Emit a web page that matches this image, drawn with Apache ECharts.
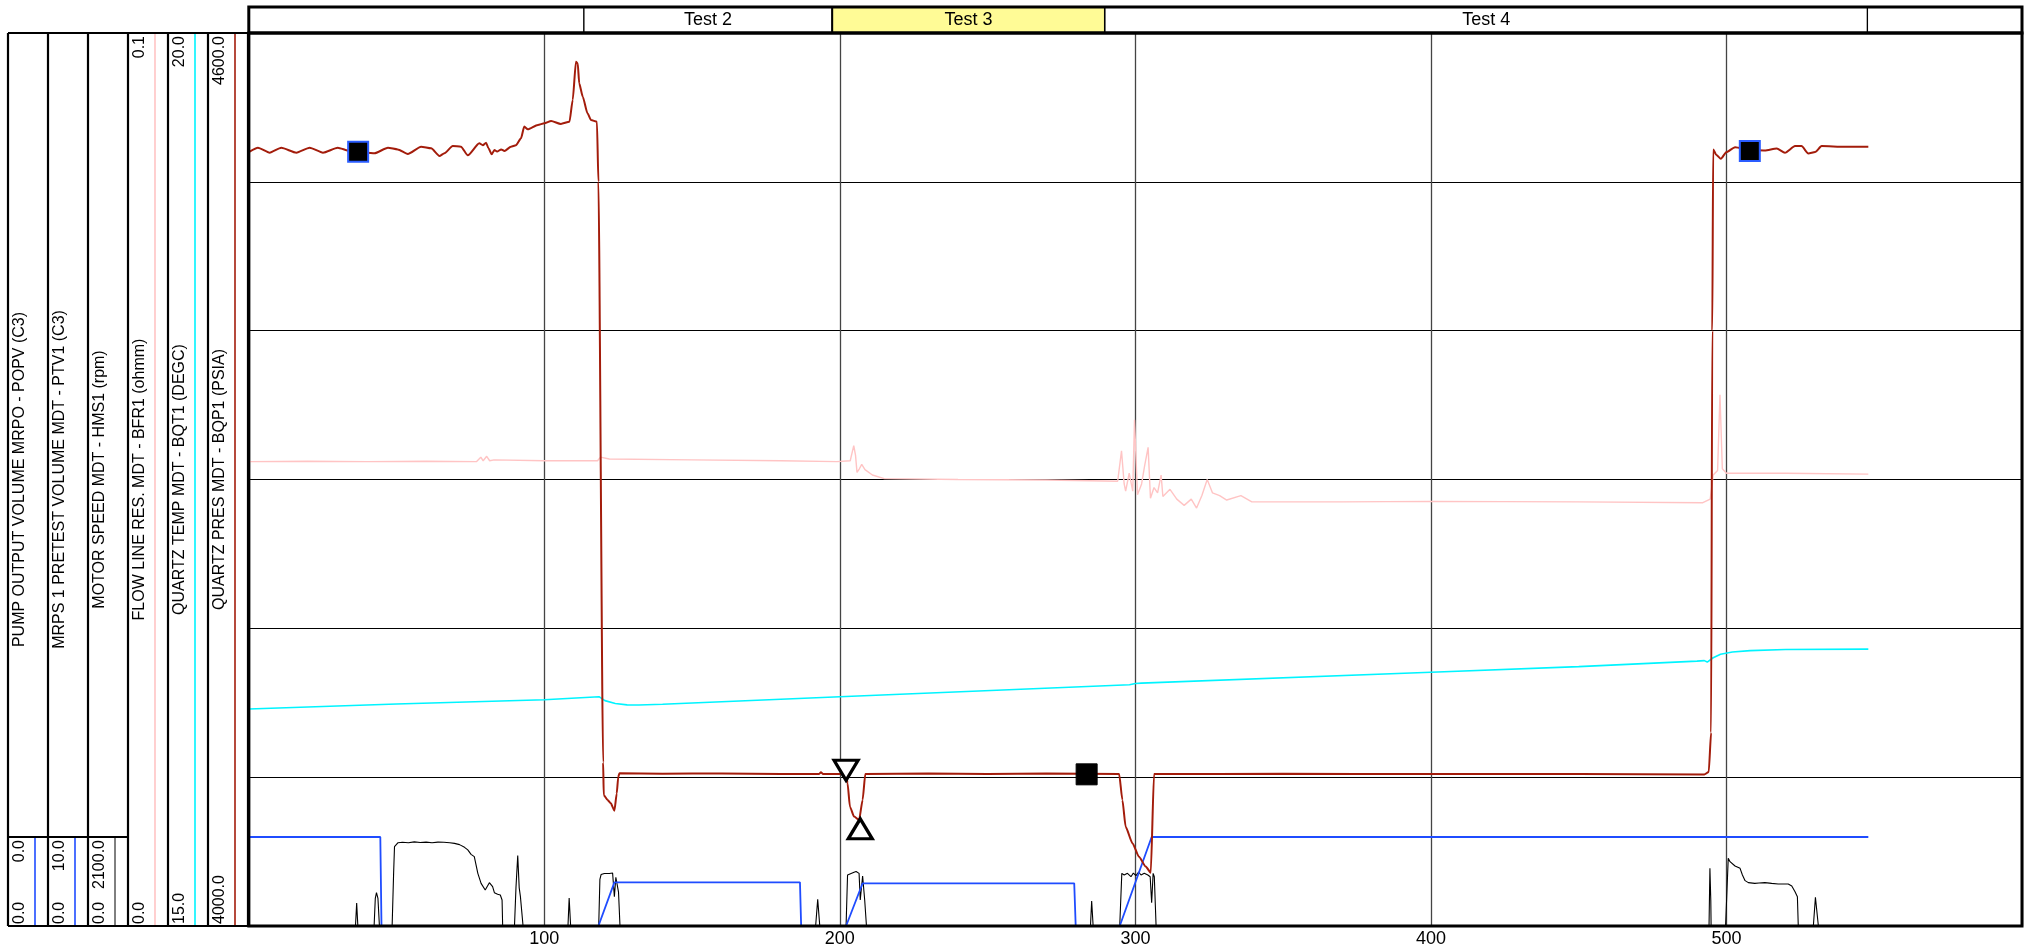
<!DOCTYPE html>
<html><head><meta charset="utf-8">
<script src="https://cdn.jsdelivr.net/npm/echarts@6/dist/echarts.min.js"></script>
<style>html,body{margin:0;padding:0;background:#fff}#c{width:2026px;height:950px}</style>
</head><body><div id="c"></div>
<script>
// ---------------- DATA ----------------
// Quartz pressure (PSIA)
const presData = [[0.3,4520.3],[3.1,4522.9],[7.05,4519.6],[11.0,4522.9],[16.1,4519.6],[20.6,4522.9],[25.1,4519.6],[30.1,4522.9],[34,4520.8],[37,4520.2],[40,4519.6],[42.5,4519.2],[47.1,4522.9],[50.4,4521.8],[53.8,4518.7],[58.3,4523.6],[61.7,4522.5],[64.5,4517.4],[66.2,4519.2],[69.0,4524.1],[71.8,4523.6],[74.1,4517.8],[78.0,4525.9],[79.2,4524.6],[80.3,4526.3],[81.1,4522.5],[82.2,4518.5],[83.1,4521.4],[84.0,4520.3],[85.4,4521.8],[86.5,4520.7],[88.7,4523.6],[90.4,4524.6],[92.1,4529.2],[93.2,4537.1],[94.4,4535.3],[97.8,4538.2],[100.0,4539.3],[102.3,4540.9],[105.6,4538.9],[108.5,4540.4],[109.6,4555.0],[110.7,4580.7],[111.3,4579.6],[111.8,4566.2],[113.0,4557.2],[114.6,4546.0],[115.8,4541.5],[117.8,4540.4],[118.3,4500],[119.9,4110],[120.1,4088.0],[121.4,4084.7],[122.5,4082.4],[123.7,4077.5],[124.5,4089.1],[125.0,4100],[125.4,4102.6],[140,4102.3],[160,4102.5],[180,4102.2],[193.0,4102.2],[193.6,4103.3],[194.3,4102.1],[202.1,4102.1],[202.6,4095.9],[203.4,4080.2],[204.8,4073.5],[206.5,4071.2],[207.7,4084.7],[208.6,4102.1],[230,4102.4],[250,4102.2],[270,4102.4],[294.5,4102.1],[295.6,4084.7],[296.7,4066.7],[299.0,4055.6],[301.2,4046.6],[303.5,4039.9],[305.2,4035.8],[306.3,4102.1],[350,4102.3],[400,4102.1],[450,4102.2],[492.5,4101.8],[494.0,4103.5],[494.8,4130],[495.2,4400],[495.5,4521.7],[496.6,4518],[498.1,4515.5],[500,4520],[502.9,4523.3],[508.2,4521.3],[513,4521.1],[517,4522.4],[519.8,4519.5],[523.2,4524],[525.4,4524],[527.7,4519],[530,4520],[532.2,4524],[540,4523.6],[548,4523.5]];
// Quartz temperature (DEGC)
const tempData = [[0,16.215],[50,16.243],[100,16.267],[118.5,16.284],[120.5,16.262],[124,16.246],[128,16.238],[132,16.237],[140,16.242],[200,16.284],[298,16.351],[300,16.358],[302,16.360],[400,16.421],[450,16.452],[490,16.483],[492.5,16.486],[493.5,16.478],[495.5,16.502],[498,16.522],[502,16.534],[508,16.542],[520,16.548],[548,16.550]];
// Flow line resistivity (ohmm)
const flowData = [[0,0.0520],[20,0.05205],[40,0.0520],[60,0.05205],[77,0.0520],[78.5,0.0525],[79.3,0.0521],[80.5,0.0526],[81.5,0.0521],[83,0.0522],[100,0.0521],[118,0.0521],[119,0.0525],[122,0.0523],[150,0.0522],[180,0.0521],[199,0.0520],[203.5,0.0521],[204.7,0.0538],[205.3,0.0527],[205.8,0.0508],[206.6,0.0512],[207.4,0.0517],[208.5,0.0511],[211,0.0505],[215,0.0501],[240,0.0500],[270,0.04995],[294,0.0498],[295.3,0.0532],[296.2,0.0495],[296.7,0.0487],[297.9,0.0507],[299.1,0.0487],[299.7,0.0567],[300.7,0.0483],[302.1,0.0495],[303.1,0.0515],[304.3,0.0536],[305.1,0.0479],[306.3,0.0491],[307.5,0.0485],[308.7,0.0505],[309.3,0.0481],[311.7,0.0489],[314,0.0478],[316.5,0.0471],[318.9,0.0478],[320.7,0.0468],[322.5,0.0482],[324.3,0.0500],[326.1,0.0485],[328.5,0.0482],[330.9,0.0477],[335.7,0.0482],[339.4,0.0475],[370,0.0475],[400,0.04755],[450,0.0475],[492,0.0474],[494.5,0.0478],[495.5,0.0505],[497,0.0510],[497.8,0.0595],[498.6,0.0512],[500,0.0507],[520,0.0507],[548,0.0506]];
// Pump output volume (C3)
const pumpData = [[0,0.04],[44.5,0.04],[44.9,0],[294.7,0],[305.5,0.04],[548,0.04]];
// Pretest volume (C3)
const pretestData = [[0,0],[118.3,0],[123.7,4.9],[186.5,4.9],[186.9,0],[202.1,0],[207.7,4.8],[279.3,4.8],[279.8,0],[548,0]];
// Motor speed (rpm)
const motorData = [[0,0],[36.1,0],[36.5,540],[36.9,0],[42.4,0],[42.8,650],[43.2,790],[43.7,650],[44.2,0],[48.5,0],[49.0,1242],[49.3,1872],[49.9,1911],[50.5,1966],[52,1975],[54,1966],[56,1985],[58,1970],[60,1980],[62,1966],[64,1980],[66,1975],[68,1966],[69.6,1950],[71.3,1920],[73.0,1856],[74.1,1797],[75.2,1691],[76.3,1636],[77.5,1242],[78.6,1006],[80.0,849],[80.6,826],[81.4,1022],[82.0,1046],[82.5,928],[83.1,786],[84.2,747],[85.1,731],[85.7,613],[85.9,0],[89.9,0],[90.4,900],[91.0,1665],[91.5,900],[91.9,700],[92.3,680],[92.8,0],[108.0,0],[108.4,659],[108.9,0],[118.4,0],[118.8,1100],[119.2,1213],[120.3,1240],[122,1240],[123.1,1250],[123.7,692],[124.2,1150],[124.6,1148],[125.1,800],[125.6,0],[191.8,0],[192.5,629],[193.2,0],[202.1,0],[202.6,1203],[203.1,1242],[204.8,1267],[205.5,1285],[206.5,1242],[206.9,613],[207.7,1180],[208.2,1160],[208.4,613],[209.0,0],[284.8,0],[285.2,590],[285.7,0],[294.7,0],[295.4,1242],[296.2,1203],[297.3,1242],[298.5,1163],[299.3,1250],[300.2,1187],[301.1,1274],[301.9,1203],[303.0,1242],[304.2,1203],[305.0,1163],[305.5,550],[306.0,1242],[306.4,1163],[307.0,0],[494.1,0],[494.4,1361],[494.7,600],[494.8,0],[499.7,0],[500.6,1597],[501.2,1518],[502.9,1416],[504.6,1361],[505.4,1203],[506.3,1070],[507.4,1023],[509.6,1006],[511,1015],[513.0,1023],[515.3,1006],[517.5,991],[520.9,991],[522.1,944],[523.2,810],[524.0,692],[524.3,0],[529.4,0],[530.1,676],[531.1,0],[548,0]];
// Event markers on the pressure curve
const markerX = [37.0, 507.9, 202.1, 206.9, 283.5];
const markerY = [4520.2, 4520.8, 4104.6, 4065.3, 4101.9];
const markerKind = ['blueSquare', 'blueSquare', 'down', 'up', 'square'];
// Header test intervals
const testBounds = [0, 113.4, 197.4, 289.7, 547.7, 600];
const testNames = ['', 'Test 2', 'Test 3', 'Test 4', ''];
// Axis ranges / titles of the six tracks
const trackTitles = ['PUMP OUTPUT VOLUME MRPO - POPV (C3)', 'MRPS 1 PRETEST VOLUME MDT - PTV1 (C3)', 'MOTOR SPEED MDT - HMS1 (rpm)', 'FLOW LINE RES. MDT - BFR1 (ohmm)', 'QUARTZ TEMP MDT - BQT1 (DEGC)', 'QUARTZ PRES MDT - BQP1 (PSIA)'];
const trackMin = [0, 0, 0, 0, 15, 4000];
const trackMax = [0.04, 10, 2100, 0.1, 20, 4600];
const xTicks = [0, 100, 200, 300, 400, 500, 600];

// ---------------- LAYOUT / STYLE ----------------
const W = 2026, H = 950;
const PL = 248.8, PRt = 2022, PT = 33, PBt = 926, SUBT = 837, HT = 7;
const FONT = 'Liberation Sans, Arial, Helvetica, sans-serif';
const RED = '#a31c0b', CYAN = '#00f4ff', PINK = '#ffc4c4', BLUE = '#1f4cff';
const trackColor = [BLUE, BLUE, '#000', PINK, CYAN, RED];
const trackFull = [false, false, false, true, true, true];

const chart = echarts.init(document.getElementById('c'), null, {renderer: 'canvas'});

const markerData = markerX.map((x, i) => {
  const k = markerKind[i];
  if (k === 'blueSquare') return {value: [x, markerY[i]], symbol: 'rect', symbolSize: 20, itemStyle: {color: '#000', borderColor: '#2a5cff', borderWidth: 2, opacity: 1}};
  if (k === 'square') return {value: [x, markerY[i]], symbol: 'rect', symbolSize: 21, itemStyle: {color: '#000', borderColor: '#000', borderWidth: 1, opacity: 1}};
  return {value: [x, markerY[i]], symbol: 'triangle', symbolSize: [24, 20], symbolRotate: k === 'down' ? 180 : 0, itemStyle: {color: '#fff', borderColor: '#000', borderWidth: 3.2, opacity: 1}};
});

const headerAreas = testNames.map((n, i) => [
  {name: n, xAxis: testBounds[i], itemStyle: {color: n === 'Test 3' ? '#fffb96' : '#fff', borderColor: '#000', borderWidth: n === 'Test 3' ? 2 : 1.2, opacity: 1}},
  {xAxis: testBounds[i + 1]}
]);

// left panel graphics
const g = [];
const colL = i => 8 + 40 * i;
for (let i = 0; i <= 6; i++) {
  g.push({type: 'line', z: 50, shape: {x1: colL(i), y1: PT, x2: colL(i), y2: PBt}, style: {stroke: '#000', lineWidth: 2.2}});
}
g.push({type: 'line', z: 50, shape: {x1: 8, y1: PT, x2: PL, y2: PT}, style: {stroke: '#000', lineWidth: 2}});
g.push({type: 'line', z: 50, shape: {x1: 8, y1: PBt, x2: PL, y2: PBt}, style: {stroke: '#000', lineWidth: 2}});
g.push({type: 'line', z: 50, shape: {x1: 8, y1: SUBT, x2: colL(3), y2: SUBT}, style: {stroke: '#000', lineWidth: 2}});
for (let i = 0; i < 6; i++) {
  const cx = colL(i) + 27;
  const y1 = trackFull[i] ? PT : SUBT;
  g.push({type: 'line', z: 49, shape: {x1: cx, y1: y1, x2: cx, y2: PBt}, style: {stroke: trackColor[i], lineWidth: i === 2 ? 1 : 1.6}});
  const tx = colL(i) + 12;
  g.push({type: 'text', z: 51, x: tx, y: (PT + PBt) / 2, rotation: Math.PI / 2, style: {text: trackTitles[i], font: '16px ' + FONT, fill: '#000', align: 'center', verticalAlign: 'middle'}});
  g.push({type: 'text', z: 51, x: tx, y: PBt - 2, rotation: Math.PI / 2, style: {text: trackMin[i].toFixed(1), font: '16px ' + FONT, fill: '#000', align: 'left', verticalAlign: 'middle'}});
  g.push({type: 'text', z: 51, x: tx, y: (trackFull[i] ? PT : SUBT) + 3, rotation: Math.PI / 2, style: {text: trackMax[i].toFixed(1), font: '16px ' + FONT, fill: '#000', align: 'right', verticalAlign: 'middle'}});
}
// frames on top of curves
g.push({type: 'rect', z: 60, shape: {x: PL, y: PT, width: PRt - PL, height: PBt - PT}, style: {fill: null, stroke: '#000', lineWidth: 3}});
g.push({type: 'rect', z: 60, shape: {x: PL, y: HT, width: PRt - PL, height: PT - HT}, style: {fill: null, stroke: '#000', lineWidth: 3}});

const lineBase = {type: 'line', showSymbol: false, symbol: 'none', silent: true, animation: false};

chart.setOption({
  animation: false,
  backgroundColor: '#fff',
  grid: [
    {left: PL, right: W - PRt, top: PT, bottom: H - PBt},
    {left: PL, right: W - PRt, top: SUBT, bottom: H - PBt},
    {left: PL, right: W - PRt, top: HT, bottom: H - PT}
  ],
  xAxis: [
    {gridIndex: 0, type: 'value', min: xTicks[0], max: xTicks[xTicks.length - 1], interval: xTicks[1] - xTicks[0],
      axisLine: {show: false}, axisTick: {show: false},
      axisLabel: {show: true, showMinLabel: false, showMaxLabel: false, color: '#000', fontSize: 18, fontFamily: FONT, margin: 4},
      splitLine: {show: true, lineStyle: {color: '#444', width: 1.3}}},
    {gridIndex: 1, type: 'value', min: 0, max: 600, show: false},
    {gridIndex: 2, type: 'value', min: 0, max: 600, show: false}
  ],
  yAxis: [
    {gridIndex: 0, type: 'value', min: trackMin[5], max: trackMax[5], interval: 100, axisLine: {show: false}, axisTick: {show: false}, axisLabel: {show: false},
      splitLine: {show: true, lineStyle: {color: '#000', width: 1.1}}},
    {gridIndex: 0, type: 'value', min: trackMin[4], max: trackMax[4], show: false},
    {gridIndex: 0, type: 'value', min: trackMin[3], max: trackMax[3], show: false},
    {gridIndex: 1, type: 'value', min: trackMin[0], max: trackMax[0], show: false},
    {gridIndex: 1, type: 'value', min: trackMin[1], max: trackMax[1], show: false},
    {gridIndex: 1, type: 'value', min: trackMin[2], max: trackMax[2], show: false},
    {gridIndex: 2, type: 'value', min: 0, max: 1, show: false}
  ],
  series: [
    Object.assign({}, lineBase, {name: 'FLOW LINE RES.', xAxisIndex: 0, yAxisIndex: 2, data: flowData, z: 3, lineStyle: {color: PINK, width: 1.4}}),
    Object.assign({}, lineBase, {name: 'QUARTZ TEMP', xAxisIndex: 0, yAxisIndex: 1, data: tempData, z: 4, lineStyle: {color: CYAN, width: 1.6}}),
    Object.assign({}, lineBase, {name: 'MOTOR SPEED', xAxisIndex: 1, yAxisIndex: 5, data: motorData, z: 4, lineStyle: {color: '#000', width: 1.1}}),
    Object.assign({}, lineBase, {name: 'PUMP OUTPUT VOLUME', xAxisIndex: 1, yAxisIndex: 3, data: pumpData, z: 5, lineStyle: {color: BLUE, width: 1.8}}),
    Object.assign({}, lineBase, {name: 'PRETEST VOLUME', xAxisIndex: 1, yAxisIndex: 4, data: pretestData, z: 5, lineStyle: {color: BLUE, width: 1.8}}),
    Object.assign({}, lineBase, {name: 'QUARTZ PRES', xAxisIndex: 0, yAxisIndex: 0, data: presData, z: 6, smooth: 0.2, smoothMonotone: 'x', lineStyle: {color: RED, width: 2}}),
    {type: 'scatter', name: 'events', xAxisIndex: 0, yAxisIndex: 0, data: markerData, z: 10, silent: true, animation: false, itemStyle: {opacity: 1}},
    {type: 'line', name: 'tests', xAxisIndex: 2, yAxisIndex: 6, data: [], silent: true,
      markArea: {silent: true, label: {show: true, position: 'inside', formatter: '{b}', color: '#000', fontSize: 18, fontFamily: FONT}, data: headerAreas}}
  ],
  graphic: {elements: g}
});
</script>
</body></html>
